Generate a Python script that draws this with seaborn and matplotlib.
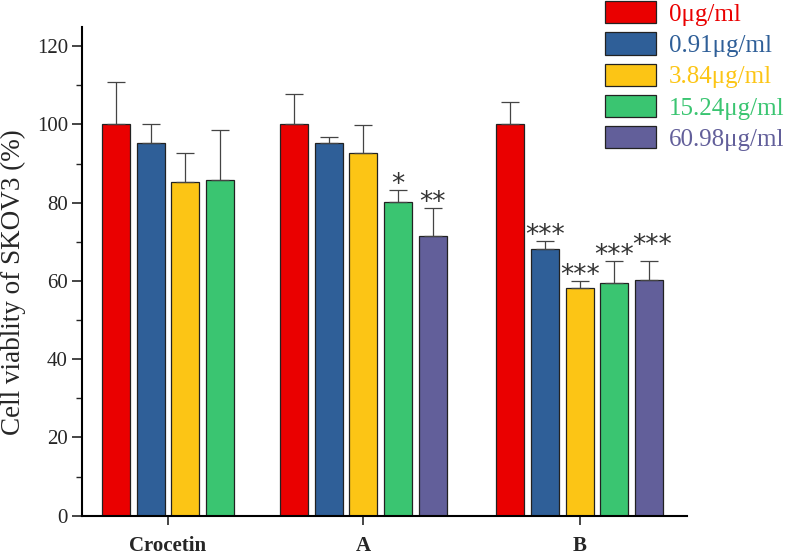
"""
Cell viability of SKOV3 - grouped bar chart with error bars
"""

import numpy as np
import pandas as pd
import matplotlib
matplotlib.use("Agg")
import matplotlib.pyplot as plt
from matplotlib.patches import Patch
import seaborn as sns

# ========== Data ==========
groups = ['Crocetin', 'A', 'B']
concs = ['0μg/ml', '0.91μg/ml', '3.84μg/ml', '15.24μg/ml', '60.98μg/ml']
colors = ['#EA0000', '#2F5F98', '#FCC515', '#3AC571', '#625F9A']

vals_crocetin = [100, 95.3, 85.3, 85.7]
err_crocetin = [10.9, 4.7, 7.5, 13.0]
stars_crocetin = ['', '', '', '']

vals_a = [100, 95.3, 92.7, 80.2, 71.5]
err_a = [7.7, 1.5, 7.1, 3.0, 7.2]
stars_a = ['', '', '', '*', '**']

vals_b = [100, 68.1, 58.3, 59.6, 60.2]
err_b = [5.8, 2.0, 1.8, 5.4, 5.0]
stars_b = ['', '***', '***', '***', '***']

# group centres on the x axis (one unit = one bar slot)
group_centers = [0.0, 5.63, 11.87]

# build long table
rows = []
for g, c, vals, errs, stars in zip(groups, group_centers,
                                   [vals_crocetin, vals_a, vals_b],
                                   [err_crocetin, err_a, err_b],
                                   [stars_crocetin, stars_a, stars_b]):
    n = len(vals)
    for i in range(n):
        rows.append({'group': g, 'conc': concs[i], 'value': vals[i],
                     'err': errs[i], 'star': stars[i],
                     'xpos': c + i - (n - 1) / 2})
df = pd.DataFrame(rows)

# ========== Style ==========
sns.set_style("ticks")
plt.rcParams['font.family'] = ['Liberation Serif', 'DejaVu Serif']

fig = plt.figure(figsize=(7.87, 5.56), dpi=100)
ax = fig.add_axes([0.1038, 0.0725, 0.7695, 0.8795])

sns.barplot(data=df, x='xpos', y='value', hue='conc', hue_order=concs,
            palette=colors, saturation=1, native_scale=True, dodge=False,
            width=0.81, errorbar=None, edgecolor='#222222', linewidth=0.9,
            legend=False, ax=ax)

# upward-only error bars
ax.errorbar(df['xpos'], df['value'],
            yerr=[np.zeros(len(df)), df['err']],
            fmt='none', ecolor='#444444', elinewidth=0.9,
            capsize=6.5, capthick=0.9, zorder=1)

# significance stars (last B label lifted a bit so neighbours don't collide)
for _, r in df.iterrows():
    if r['star']:
        lift = 7 if (r['group'] == 'B' and r['conc'] == concs[-1]) else 0
        ax.annotate(r['star'], (r['xpos'], r['value'] + r['err'] - 0.5),
                    xytext=(2 if lift else 0, lift), textcoords='offset points',
                    ha='center', va='baseline', fontsize=19, color='#333333',
                    family='DejaVu Sans')

# axes
ax.set_xlim(-2.49, 14.97)
ax.set_ylim(0, 125)
ax.set_yticks(np.arange(0, 121, 20))
ax.set_yticks(np.arange(10, 121, 20), minor=True)
ax.set_xticks(group_centers)
ax.set_xticklabels(groups, fontweight='bold', fontsize=15)
ax.set_xlabel('')
ax.set_ylabel('Cell viablity of SKOV3 (%)', fontsize=19.5)
ax.yaxis.set_label_coords(-0.092, 0.477)

ax.tick_params(axis='y', which='major', length=7, width=1.2,
               labelsize=15, pad=3, direction='out')
ax.tick_params(axis='y', which='minor', length=4, width=1.0, direction='out')
ax.tick_params(axis='x', which='major', length=6.5, width=1.2, pad=8,
               direction='out')

sns.despine(ax=ax)
for s in ['left', 'bottom']:
    ax.spines[s].set_linewidth(1.5)
    ax.spines[s].set_color('black')

# legend
handles = [Patch(facecolor=c, edgecolor='#222222', linewidth=0.9) for c in colors]
fig.legend(handles, concs, loc='upper left',
           bbox_to_anchor=(605 / 787, 1 - 1.0 / 556),
           frameon=False, fontsize=18, handlelength=2.04, handleheight=1.0,
           handletextpad=0.52, labelspacing=0.26, borderpad=0,
           borderaxespad=0, labelcolor=colors)

plt.savefig('out.png', dpi=100)
print("Saved: out.png")
